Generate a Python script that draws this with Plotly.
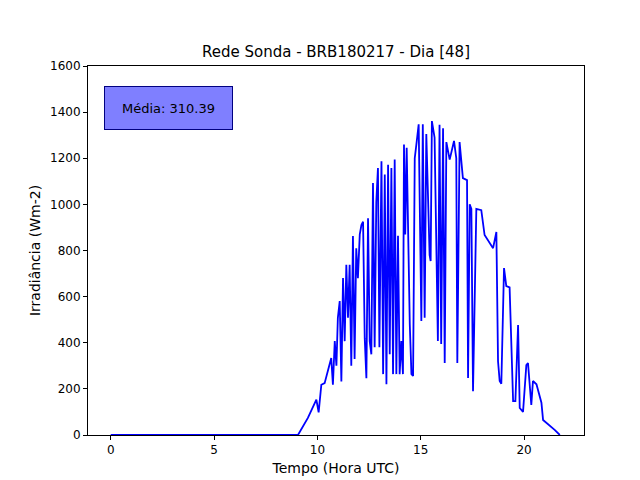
import plotly.graph_objects as go

# leituras estimadas a partir da figura
tempo = [0, 9.06, 9.54, 9.95, 10.06, 10.19, 10.35, 10.67, 10.75, 10.84, 10.92, 10.99, 11.08, 11.16,
         11.24, 11.32, 11.4, 11.48, 11.56, 11.64, 11.72, 11.8, 11.88, 11.96, 12.05, 12.13, 12.21,
         12.29, 12.37, 12.45, 12.53, 12.61, 12.69, 12.77, 12.85, 12.93, 13.0, 13.1, 13.18, 13.26,
         13.34, 13.42, 13.5, 13.58, 13.66, 13.74, 13.82, 13.9, 13.98, 14.06, 14.14, 14.19, 14.25,
         14.32, 14.47, 14.55, 14.63, 14.71, 14.79, 14.9, 15.03, 15.1, 15.19, 15.27, 15.43, 15.48,
         15.54, 15.67, 15.83, 15.91, 15.99, 16.08, 16.16, 16.24, 16.4, 16.61, 16.72, 16.77, 16.88,
         17.04, 17.24, 17.29, 17.37, 17.45, 17.53, 17.61, 17.69, 17.93, 18.09, 18.5, 18.66, 18.74,
         18.82, 18.9, 19.03, 19.14, 19.3, 19.47, 19.58, 19.71, 19.79, 19.95, 20.11, 20.19, 20.35,
         20.43, 20.6, 20.84, 20.92, 21.48, 21.73]
irradiancia = [0, 0, 74, 153, 98, 218, 225, 334, 218, 407, 300, 508, 581, 232,
               681, 407, 738, 508, 738, 300, 863, 330, 810, 680, 870, 910, 925,
               420, 246, 940, 407, 350, 1093, 380, 1010, 1158, 380, 1187, 264, 1130,
               220, 1172, 350, 1158, 264, 1195, 264, 864, 264, 407, 264, 1260, 870,
               1245, 480, 264, 256, 1200, 1260, 1347, 494, 1347, 508, 1305, 780, 754,
               1361, 1290, 408, 1345, 395, 1330, 312, 1270, 1194, 1275, 1200, 312, 1270,
               1114, 1105, 247, 1000, 980, 190, 550, 980, 975, 867, 810, 880, 320,
               234, 222, 724, 646, 640, 147, 147, 477, 117, 100, 303, 312, 130,
               234, 220, 140, 65, 22, 0]
media = 310.39

fig = go.Figure()
fig.add_trace(go.Scatter(x=tempo, y=irradiancia, mode="lines",
                         line=dict(color="blue", width=1.8), showlegend=False))

fig.add_annotation(x=0.032, y=0.886, xref="paper", yref="paper", xanchor="left", yanchor="middle",
                   text="Média: %.2f" % media, showarrow=False, font=dict(size=13, color="black"),
                   bgcolor="rgba(0,0,255,0.5)", bordercolor="#000080", borderwidth=1,
                   width=125, height=40)

axis = dict(showgrid=False, zeroline=False, showline=True, mirror=True, linecolor="black",
            ticks="outside", tickcolor="black", ticklen=4, automargin=False)
fig.update_layout(
    width=640, height=480,
    plot_bgcolor="white", paper_bgcolor="white",
    font=dict(family="DejaVu Sans", size=12, color="black"),
    title=dict(text="Rede Sonda - BRB180217 - Dia [48]", x=0.5, xref="paper", y=0.908,
               xanchor="center", yanchor="middle", font=dict(size=15)),
    margin=dict(l=80, r=64, t=58, b=53),
    xaxis=dict(axis, range=[-1.1, 22.9], tickvals=[0, 5, 10, 15, 20],
               title=dict(text="Tempo (Hora UTC)", standoff=6)),
    yaxis=dict(axis, range=[0, 1600], dtick=200,
               title=dict(text="Irradiância (Wm-2)", standoff=6)),
)
fig.write_html("out.html")
